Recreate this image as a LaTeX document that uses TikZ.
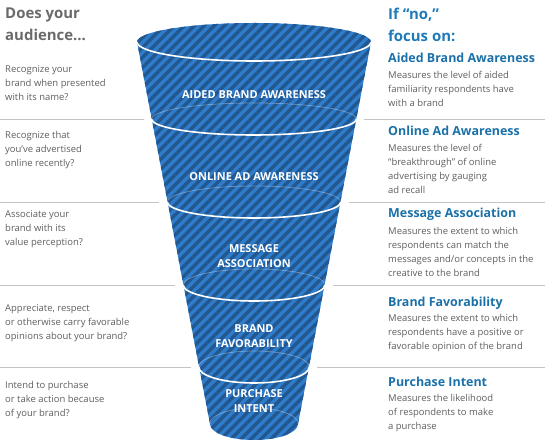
\documentclass[tikz,border=0pt]{standalone}
\usepackage{fontspec}
\setmainfont{Open Sans}
\definecolor{textgray}{HTML}{5E5E5E}
\definecolor{headgray}{HTML}{6A6A6A}
\definecolor{headblue}{HTML}{1F7AB8}
\definecolor{titleblue}{HTML}{1A70A8}
\definecolor{funnelblue}{HTML}{2F7DCA}
\definecolor{stripeblue}{HTML}{23578F}
\definecolor{linegray}{HTML}{C4C4C4}
\begin{document}
\begin{tikzpicture}[x=1bp, y={(0,-1bp)}]
        \def\cx{254}
        \def\funnelpath{(\cx-117,42) -- (\cx-44,424) arc[start angle=180, end angle=0, x radius=44, y radius=16] -- (\cx+117,42) arc[start angle=0, end angle=-180, x radius=117, y radius=19] -- cycle}
        \tikzstyle{heading}=[anchor=north west, align=left, inner sep=0pt, font=\fontsize{15}{22}\selectfont\bfseries]
        \tikzstyle{question}=[anchor=north west, align=left, inner sep=0pt, text=textgray, font=\fontsize{9.5}{14}\selectfont]
        \tikzstyle{title}=[anchor=base west, inner sep=0pt, text=titleblue, font=\fontsize{12.5}{14}\selectfont\bfseries]
        \tikzstyle{stage}=[align=center, inner sep=0pt, text=white, font=\fontsize{11}{15}\selectfont\bfseries]
        \tikzstyle{stripe}=[stripeblue, line width=3.4bp]
        \tikzstyle{frontrim}=[white, line width=1.6bp]
        \tikzstyle{backrim}=[white, opacity=0.3, line width=0.8bp]
        \tikzstyle{sepline}=[linegray, line width=0.8bp]

        \useasboundingbox (0,0) rectangle (545,442);

        % Separators and funnel
        \foreach \yy in {119,202,285,367} {
            \pgfmathsetmacro\ww{117-0.19*(\yy-42)}
            \draw[sepline] (0,\yy) -- (\cx-\ww-8,\yy);
            \draw[sepline] (\cx+\ww+8,\yy) -- (545,\yy);
        }
        \fill[funnelblue] \funnelpath;
        \begin{scope}
            \clip \funnelpath;
            \foreach \s in {-310,-300,...,380}
                \draw[stripe] (\s,450) -- (\s+460,-10);
        \end{scope}
        \draw[frontrim] (\cx-117,42) arc[start angle=180, end angle=0, x radius=117, y radius=19];
        \foreach \yy in {119,202,285,367,424} {
            \pgfmathsetmacro\ww{117-0.19*(\yy-42)}
            \draw[backrim] (\cx-\ww,\yy) arc[start angle=180, end angle=360, x radius=\ww, y radius=16];
        }
        \foreach \yy in {119,202,285,367} {
            \pgfmathsetmacro\ww{117-0.19*(\yy-42)}
            \draw[frontrim] (\cx-\ww,\yy) arc[start angle=180, end angle=0, x radius=\ww, y radius=16];
        }

        % Nodes
        \node[heading, text=headgray] (askhead) at (5,8) {Does your\\audience...};
        \node[heading, text=headblue] (focushead) at (388,7.5) {If “no,”\\focus on:};

        \node[stage] (aided) at (\cx,95) {AIDED BRAND AWARENESS};
        \node[stage] (online) at (\cx,177) {ONLINE AD AWARENESS};
        \node[stage] (message) at (\cx,256.5) {MESSAGE\\ASSOCIATION};
        \node[stage] (favor) at (\cx,336.5) {BRAND\\FAVORABILITY};
        \node[stage] (intent) at (\cx,401) {PURCHASE\\INTENT};

        \node[question] (q1) at (5,65.5) {Recognize your\\brand when presented\\with its name?};
        \node[question] (q2) at (5,131.5) {Recognize that\\you’ve advertised\\online recently?};
        \node[question] (q3) at (5,210.5) {Associate your\\brand with its\\value perception?};
        \node[question] (q4) at (5,304.5) {Appreciate, respect\\or otherwise carry favorable\\opinions about your brand?};
        \node[question] (q5) at (5,381.5) {Intend to purchase\\or take action because\\of your brand?};

        \node[title] (t1) at (388,63) {Aided Brand Awareness};
        \node[question] (d1) at (388,71.5) {Measures the level of aided\\familiarity respondents have\\with a brand};
        \node[title] (t2) at (388,136) {Online Ad Awareness};
        \node[question] (d2) at (388,144.5) {Measures the level of\\“breakthrough” of online\\advertising by gauging\\ad recall};
        \node[title] (t3) at (388,218) {Message Association};
        \node[question] (d3) at (388,227.5) {Measures the extent to which\\respondents can match the\\messages and/or concepts in the\\creative to the brand};
        \node[title] (t4) at (388,306) {Brand Favorability};
        \node[question] (d4) at (388,314.5) {Measures the extent to which\\respondents have a positive or\\favorable opinion of the brand};
        \node[title] (t5) at (388,386) {Purchase Intent};
        \node[question] (d5) at (388,394.5) {Measures the likelihood\\of respondents to make\\a purchase};

    \end{tikzpicture}
\end{document}
